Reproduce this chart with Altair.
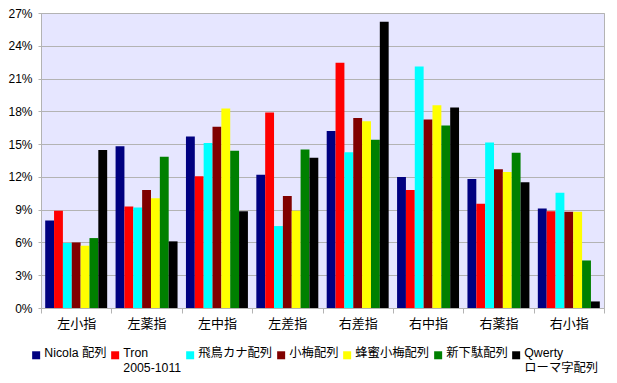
import altair as alt
import pandas as pd

fingers = ["左小指", "左薬指", "左中指", "左差指", "右差指", "右中指", "右薬指", "右小指"]
series = ["Nicola 配列", "Tron|2005-1011", "飛鳥カナ配列", "小梅配列", "蜂蜜小梅配列", "新下駄配列", "Qwerty|ローマ字配列"]
colors = ["#000080", "#ff0000", "#00ffff", "#800000", "#ffff00", "#008000", "#000000"]

nicola = [8.0, 14.8, 15.7, 12.2, 16.2, 12.0, 11.8, 9.1]
tron = [8.9, 9.3, 12.05, 17.9, 22.45, 10.8, 9.55, 8.85]
asuka = [5.95, 9.2, 15.1, 7.5, 14.25, 22.1, 15.15, 10.55]
koume = [6.0, 10.8, 16.6, 10.25, 17.4, 17.25, 12.7, 8.8]
hachimitsu = [5.7, 10.05, 18.25, 8.9, 17.1, 18.55, 12.45, 8.8]
shingeta = [6.4, 13.85, 14.4, 14.5, 15.4, 16.7, 14.2, 4.35]
qwerty = [14.45, 6.1, 8.85, 13.75, 26.2, 18.35, 11.5, 0.6]

y_ticks = [0, 3, 6, 9, 12, 15, 18, 21, 24, 27]

all_values = [nicola, tron, asuka, koume, hachimitsu, shingeta, qwerty]
rows = []
for s, vals in zip(series, all_values):
    for f, v in zip(fingers, vals):
        rows.append({"finger": f, "series": s, "value": v})
df = pd.DataFrame(rows)

FONT = "Liberation Sans, Noto Sans CJK JP, sans-serif"

chart = alt.Chart(df).mark_bar(size=8.86).encode(
    x=alt.X("finger:N", sort=fingers, title=None,
            scale=alt.Scale(paddingInner=0, paddingOuter=0),
            axis=alt.Axis(labelAngle=0, tickBand="extent", domainColor="#b3b3b3",
                          tickColor="#b3b3b3", tickSize=5, labelPadding=4,
                          labelFontSize=13, labelColor="#000000", labelFont=FONT)),
    xOffset=alt.XOffset("series:N", sort=series,
                        scale=alt.Scale(paddingOuter=0.475, paddingInner=0)),
    y=alt.Y("value:Q", title=None,
            scale=alt.Scale(domain=[0, 27], nice=False),
            axis=alt.Axis(values=y_ticks, labelExpr="datum.value + '%'",
                          gridColor="#b3b3b3", domainColor="#b3b3b3",
                          tickColor="#b3b3b3", tickSize=3, labelPadding=6,
                          labelFontSize=12, labelColor="#000000", labelFont=FONT)),
    color=alt.Color("series:N", sort=series,
                    scale=alt.Scale(domain=series, range=colors),
                    legend=alt.Legend(orient="none", legendX=-11, legendY=338,
                                      direction="horizontal", columns=7,
                                      title=None, symbolType="M-1,-1.5H1V0.5H-1Z",
                                      symbolSize=64,
                                      symbolStrokeWidth=0, labelFontSize=12.3,
                                      labelFont=FONT, labelColor="#000000",
                                      labelOffset=2, columnPadding=2,
                                      labelBaseline="alphabetic", labelLimit=200,
                                      labelExpr="indexof(datum.label, '|') >= 0 ? split(datum.label, '|') : [datum.label, ' ']")),
).properties(
    width=563, height=295,
    padding={"left": 33, "top": 5, "right": 4, "bottom": 66},
    autosize=alt.AutoSizeParams(type="none"),
).configure(
    background="#ffffff"
).configure_view(
    fill="#e6e6ff", stroke="#b3b3b3"
)

chart.save("out.html", embed_options={"renderer": "svg", "actions": False})
